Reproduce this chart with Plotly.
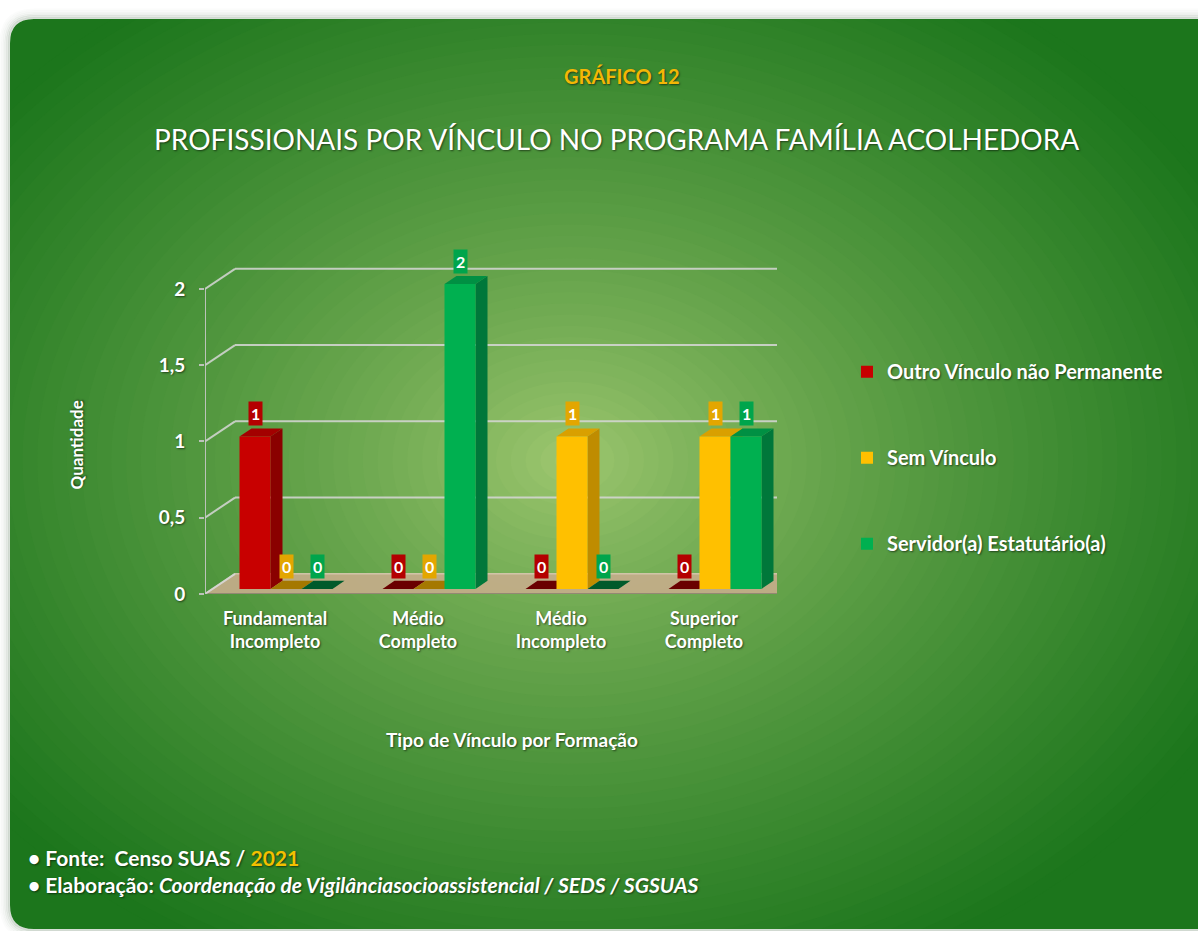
import plotly.graph_objects as go

W, H = 1198, 931
FONT = "Lato"
SY, Y_OFF = 1 / 0.985, 1.0   # vertical calibration of screen positions

# ---------------- data ----------------
categories = ["Fundamental<br>Incompleto", "Médio<br>Completo", "Médio<br>Incompleto", "Superior<br>Completo"]
series_names = ["Outro Vínculo não Permanente", "Sem Vínculo", "Servidor(a) Estatutário(a)"]
outro_vinculo = [1, 0, 0, 0]
sem_vinculo = [0, 0, 1, 1]
servidor_estatutario = [0, 2, 0, 1]
y_tickvals = [0, 0.5, 1, 1.5, 2]
y_ticktext = ["0", "0,5", "1", "1,5", "2"]

series_values = [outro_vinculo, sem_vinculo, servidor_estatutario]

# ---------------- styles ----------------
front_col = ["#c80000", "#ffc000", "#00b050"]
side_col = ["#8a0000", "#bf8c00", "#00773a"]
top_col = ["#a30000", "#d9a000", "#009043"]
flat_col = ["#6a0000", "#a57800", "#005a2b"]
label_bg = ["#b40000", "#e3a600", "#00a54c"]

# geometry (pixel based, in screen coordinates)
X_LEFT_PX, X_RIGHT_PX = 205, 777
PXU = (X_RIGHT_PX - X_LEFT_PX) / 4.0          # px per x unit
Y_ZERO_PX, PYU, YSPAN = 593, 152.0, 2.2        # px per y unit
XA = -81 / PXU                                 # axis left edge (front floor)
YA = -5 / PYU                                  # front floor height
BW = 31 / PXU                                  # bar width
DXB, DYB = 12 / PXU, 8 / PYU                   # bar depth
DXW, DYW = 30 / PXU, 20 / PYU                  # wall depth
XEND = XA + (810 - X_LEFT_PX) / PXU            # back wall right end


def px(x):
    return x / W


def py(y):
    return 1 - ((y - Y_OFF) * SY) / H


def rrect(x0, y0, x1, y1, r, ccw=False):
    pts = [
        ("M", [(x0 + r, y0)]), ("L", [(x1 - r, y0)]), ("Q", [(x1, y0), (x1, y0 + r)]),
        ("L", [(x1, y1 - r)]), ("Q", [(x1, y1), (x1 - r, y1)]), ("L", [(x0 + r, y1)]),
        ("Q", [(x0, y1), (x0, y1 - r)]), ("L", [(x0, y0 + r)]), ("Q", [(x0, y0), (x0 + r, y0)]),
    ]
    if ccw:
        pts = [
            ("M", [(x0 + r, y0)]), ("Q", [(x0, y0), (x0, y0 + r)]), ("L", [(x0, y1 - r)]),
            ("Q", [(x0, y1), (x0 + r, y1)]), ("L", [(x1 - r, y1)]), ("Q", [(x1, y1), (x1, y1 - r)]),
            ("L", [(x1, y0 + r)]), ("Q", [(x1, y0), (x1 - r, y0)]), ("L", [(x0 + r, y0)]),
        ]
    s = ""
    for cmd, cs in pts:
        s += cmd + " ".join(f"{px(a):.5f},{py(b):.5f}" for a, b in cs) + " "
    return s + "Z"


shapes = []

# ---------------- background radial gradient ----------------
c_center = (165, 203, 116)
c_edge = (28, 118, 28)
GX, GY, RX, RY = 570, 460, 740, 560
shapes.append(dict(type="rect", xref="paper", yref="paper", x0=-0.1, x1=1.1, y0=-0.1, y1=1.1,
                   fillcolor="rgb(28,118,28)", line_width=0, layer="below"))
N = 50
for i in range(N, 0, -1):
    t = i / N
    f = t ** 0.75
    col = tuple(int(round(c_center[j] + (c_edge[j] - c_center[j]) * f)) for j in range(3))
    shapes.append(dict(type="circle", xref="paper", yref="paper",
                       x0=px(GX - RX * t), x1=px(GX + RX * t),
                       y0=py(GY + RY * t), y1=py(GY - RY * t),
                       fillcolor=f"rgb{col}", line_width=0, layer="below"))

# mask outside rounded panel
RX0, RY0, RX1, RY1, RR = 10, 20, 1240, 927, 24
outer = (f"M{px(-20)},{py(-20)} L{px(W + 80)},{py(-20)} L{px(W + 80)},{py(H + 60)} "
         f"L{px(-20)},{py(H + 60)} Z ")
shapes.append(dict(type="path", xref="paper", yref="paper",
                   path=outer + rrect(RX0, RY0, RX1, RY1, RR, ccw=True),
                   fillcolor="white", line_width=0, layer="below"))
# soft shadow
for k, a in enumerate([0.18, 0.12, 0.08, 0.05, 0.03, 0.015]):
    o = 1.0 + k * 1.7
    shapes.append(dict(type="path", xref="paper", yref="paper",
                       path=rrect(RX0 - o, RY0 - o, RX1 + o, RY1 + o, RR + o),
                       fillcolor="rgba(0,0,0,0)", line=dict(color=f"rgba(30,70,30,{a})", width=2),
                       layer="below"))

# ---------------- floor & walls ----------------
shapes.append(dict(type="path", xref="x", yref="y",
                   path=f"M{XA},{YA} L{XA + DXW},{YA + DYW} L{XEND},{YA + DYW} L{XA + 4},{YA} Z",
                   fillcolor="rgba(196,172,138,0.92)", line=dict(color="rgba(215,200,175,0.9)", width=1.5),
                   layer="below"))
shapes.append(dict(type="line", xref="x", yref="y", x0=XA, x1=XA + 4, y0=YA, y1=YA,
                   line=dict(color="rgba(140,130,110,0.9)", width=2), layer="below"))
for v in y_tickvals[1:]:
    shapes.append(dict(type="line", xref="x", yref="y", x0=XA, y0=v + YA, x1=XA + DXW, y1=v + YA + DYW,
                       line=dict(color="rgba(215,215,215,0.85)", width=2), layer="below"))
    shapes.append(dict(type="line", xref="x", yref="y", x0=XA + DXW, y0=v + YA + DYW, x1=XEND, y1=v + YA + DYW,
                       line=dict(color="rgba(215,215,215,0.85)", width=2), layer="below"))
shapes.append(dict(type="line", xref="x", yref="y", x0=XA, y0=YA, x1=XA + DXW, y1=YA + DYW,
                   line=dict(color="rgba(215,215,215,0.85)", width=2), layer="below"))
shapes.append(dict(type="line", xref="x", yref="y", x0=XA, y0=YA, x1=XA, y1=y_tickvals[-1] + YA,
                   line=dict(color="rgba(200,200,200,0.9)", width=2), layer="below"))

# ---------------- bars with 3D faces ----------------
fig = go.Figure()
annotations = []
xs = list(range(len(categories)))
for k, (name, vals) in enumerate(zip(series_names, series_values)):
    off = (k - 1.5) * BW
    fig.add_trace(go.Bar(
        x=xs, y=vals, name=f"<b>{name}</b>", width=BW, offset=off,
        marker=dict(color=front_col[k], line_width=0), legendgroup=name,
    ))
    for i, v in enumerate(vals):
        xl = i + off
        xr = xl + BW
        if v > 0:
            shapes.append(dict(type="path", xref="x", yref="y",
                               path=f"M{xr},{0} L{xr + DXB},{DYB} L{xr + DXB},{v + DYB} L{xr},{v} Z",
                               fillcolor=side_col[k], line_width=0, layer="below"))
            tc = top_col[k]
        else:
            tc = flat_col[k]
        shapes.append(dict(type="path", xref="x", yref="y",
                           path=f"M{xl},{v} L{xr},{v} L{xr + DXB},{v + DYB} L{xl + DXB},{v + DYB} Z",
                           fillcolor=tc, line_width=0, layer="below"))
        annotations.append(dict(x=xl + BW / 2, y=v + DYB, xref="x", yref="y", text=f"<b>{v}</b>",
                                showarrow=False, xanchor="center", yanchor="bottom", yshift=2,
                                font=dict(family=FONT, size=16, color="white"),
                                bgcolor=label_bg[k], borderpad=2))

# ---------------- texts ----------------
shadow = "1px 1px 2px rgba(0,0,0,0.55)"


def txt(x, y, text, size, color="white", xanchor="center", angle=0):
    return dict(x=px(x), y=py(y), xref="paper", yref="paper", text=text, showarrow=False,
                xanchor=xanchor, yanchor="middle", textangle=angle,
                font=dict(family=FONT, size=size, color=color, shadow=shadow))


annotations += [
    txt(622, 77, "<b>GRÁFICO 12</b>", 20, color="#f3b705"),
    txt(616, 140, "PROFISSIONAIS POR VÍNCULO NO PROGRAMA FAMÍLIA ACOLHEDORA", 28),
    txt(76, 445, "<b>Quantidade</b>", 17, angle=-90),
    txt(512, 738, "<b>Tipo de Vínculo por Formação</b>", 19),
    txt(26, 856, "<b>• Fonte:  Censo SUAS / <span style='color:#f3c000'>2021</span></b>", 21, xanchor="left"),
    txt(26, 883, "<b>• Elaboração: <i>Coordenação de Vigilânciasocioassistencial / SEDS / SGSUAS</i></b>",
        21, xanchor="left"),
]

fig.update_layout(
    width=W, height=H,
    margin=dict(l=0, r=0, t=0, b=0),
    paper_bgcolor="white", plot_bgcolor="rgba(0,0,0,0)",
    barmode="overlay",
    shapes=shapes, annotations=annotations,
    showlegend=True,
    legend=dict(x=px(847), y=py(352), xanchor="left", yanchor="top", tracegroupgap=57,
                font=dict(family=FONT, size=20, color="white", shadow=shadow),
                bgcolor="rgba(0,0,0,0)", itemwidth=30, itemclick=False),
    xaxis=dict(domain=[px(X_LEFT_PX), px(X_RIGHT_PX)], range=[XA, XA + 4],
               tickvals=[i - 11 / PXU for i in xs], ticktext=[f"<b>{c}</b>" for c in categories],
               tickfont=dict(family=FONT, size=18, color="white", shadow=shadow),
               showgrid=False, zeroline=False, showline=False, ticks="", ticklabelstandoff=12),
    yaxis=dict(domain=[py(Y_ZERO_PX), py(Y_ZERO_PX - YSPAN * PYU)], range=[YA, YA + YSPAN],
               tickvals=[v + YA for v in y_tickvals], ticktext=[f"<b>{t}</b>" for t in y_ticktext],
               tickfont=dict(family=FONT, size=19, color="white", shadow=shadow),
               showgrid=False, zeroline=False, showline=False, ticks="outside", ticklen=5,
               tickcolor="rgba(200,200,200,0.9)", tickwidth=2, ticklabelstandoff=10),
    hovermode=False,
)

fig.write_html("out.html", config={"displayModeBar": False},
               post_script="document.body.style.margin='0';document.body.style.overflow='hidden';")
